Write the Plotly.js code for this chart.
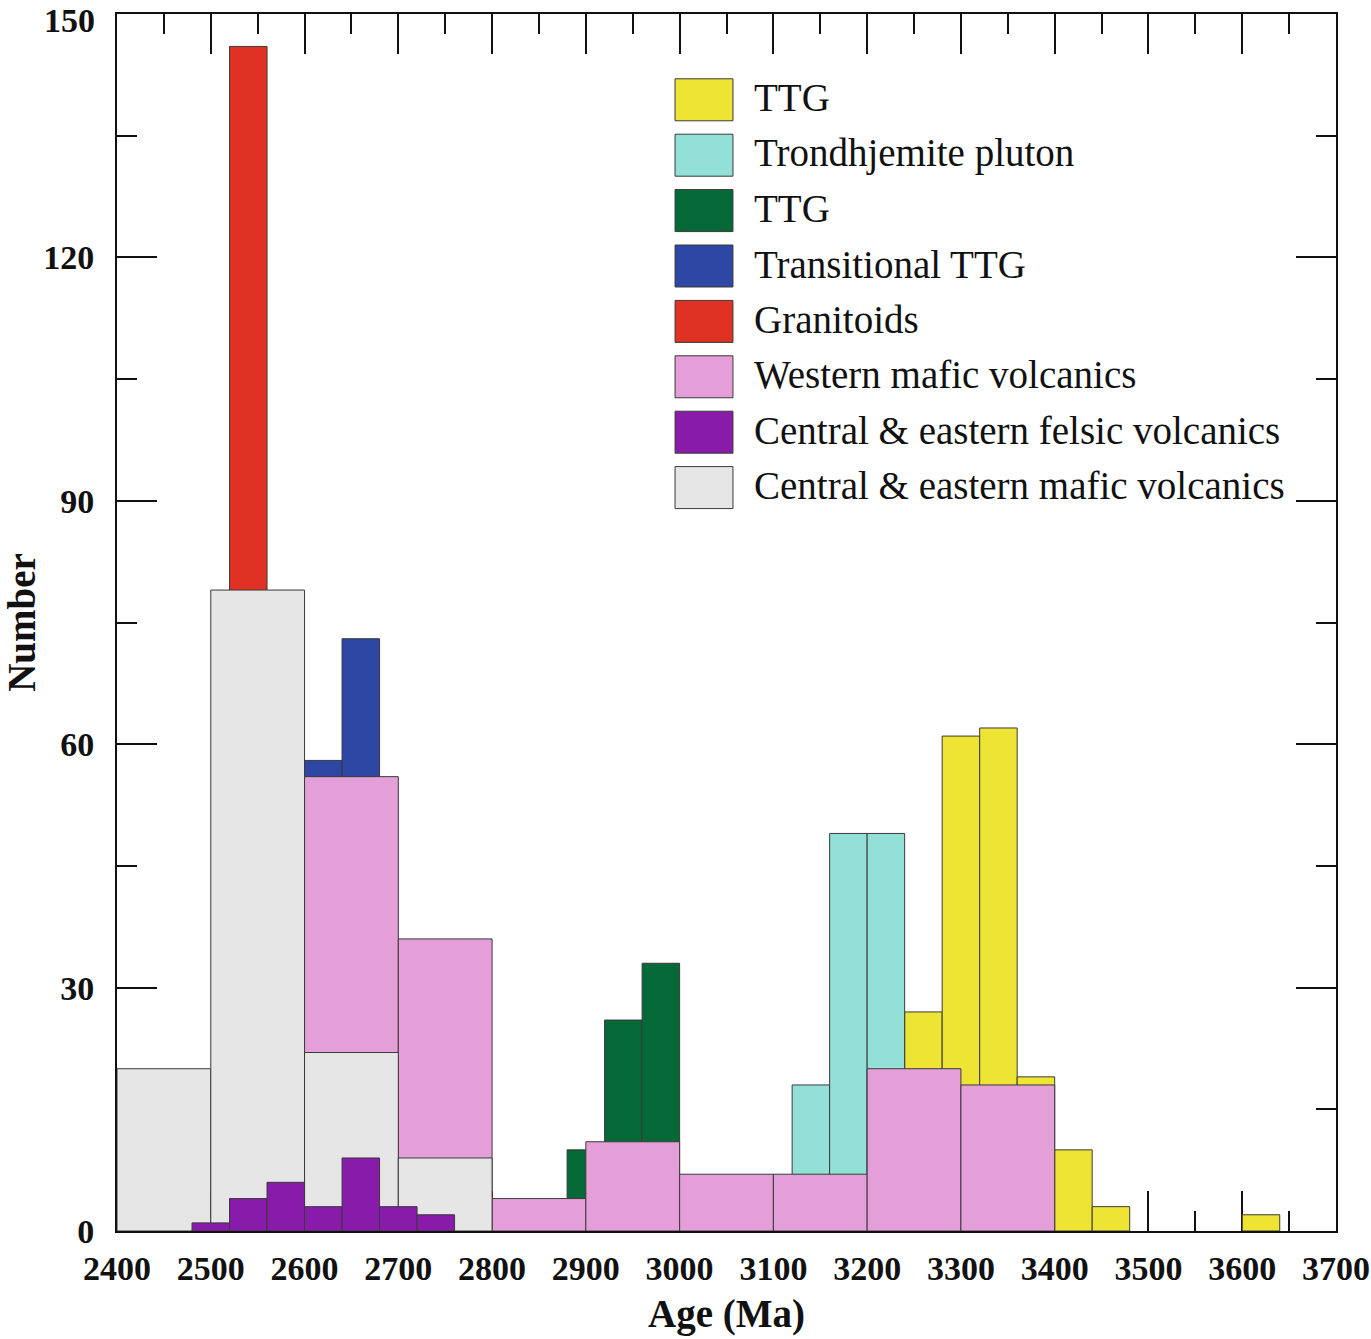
<!DOCTYPE html>
<html>
<head>
<meta charset="utf-8">
<script src="https://cdn.plot.ly/plotly-3.0.1.min.js"></script>
<style>html,body{margin:0;padding:0;background:#fff}#chart{width:1371px;height:1339px}</style>
</head>
<body>
<div id="chart"></div>
<script>
// ---- Data (bin left edges in Ma, counts) ----
var ttgYellowBins = [3240, 3280, 3320, 3360, 3400, 3440, 3600];
var ttgYellowCounts = [27, 61, 62, 19, 10, 3, 2];

var trondhjemiteBins = [3120, 3160, 3200];
var trondhjemiteCounts = [18, 49, 49];

var ttgGreenBins = [2880, 2920, 2960];
var ttgGreenCounts = [10, 26, 33];

var transitionalBins = [2600, 2640];
var transitionalCounts = [58, 73];

var granitoidBins = [2520];
var granitoidCounts = [146];

var westernMaficBins = [2600, 2700, 2800, 2900, 3000, 3100, 3200, 3300];
var westernMaficCounts = [56, 36, 4, 11, 7, 7, 20, 18];

var felsicBins = [2480, 2520, 2560, 2600, 2640, 2680, 2720];
var felsicCounts = [1, 4, 6, 3, 9, 3, 2];

var centralMaficBins = [2400, 2500, 2600, 2700];
var centralMaficCounts = [20, 79, 22, 9];

var legendNames = ["TTG", "Trondhjemite pluton", "TTG", "Transitional TTG", "Granitoids",
  "Western mafic volcanics", "Central & eastern felsic volcanics", "Central & eastern mafic volcanics"];
var legendColors = ["#ede433", "#93e0d9", "#046837", "#2e46a4", "#e03224", "#e49fd9", "#881baa", "#e6e6e6"];

var xTickVals = [2400, 2500, 2600, 2700, 2800, 2900, 3000, 3100, 3200, 3300, 3400, 3500, 3600, 3700];
var yTickVals = [0, 30, 60, 90, 120, 150];
var yTickText = ["0", "30", "60", "90", "120", "150"];

// ---- Traces (drawn in stacking order) ----
function barTrace(bins, counts, width, color, name) {
  return {
    type: 'bar', x: bins, y: counts, width: width, offset: 0, name: name,
    marker: {color: color, line: {color: '#3a3a3a', width: 1}},
    showlegend: false, hoverinfo: 'x+y+name'
  };
}
var traces = [
  barTrace(ttgYellowBins, ttgYellowCounts, 40, legendColors[0], legendNames[0]),
  barTrace(trondhjemiteBins, trondhjemiteCounts, 40, legendColors[1], legendNames[1]),
  barTrace(ttgGreenBins, ttgGreenCounts, 40, legendColors[2], legendNames[2]),
  barTrace(transitionalBins, transitionalCounts, 40, legendColors[3], legendNames[3]),
  barTrace(granitoidBins, granitoidCounts, 40, legendColors[4], legendNames[4]),
  barTrace(westernMaficBins, westernMaficCounts, 100, legendColors[5], legendNames[5]),
  barTrace(centralMaficBins, centralMaficCounts, 100, legendColors[7], legendNames[7]),
  barTrace(felsicBins, felsicCounts, 40, legendColors[6], legendNames[6])
];

var axisFont = {family: 'Liberation Serif, Times New Roman, serif', size: 34, color: '#111', weight: 'bold'};
var titleFont = {family: 'Liberation Serif, Times New Roman, serif', size: 39, color: '#111', weight: 'bold'};

// ---- Custom legend (large swatches) ----
var shapes = [], annotations = [];
var row0 = 0.9310, rowStep = 0.04552, boxH = 0.0345;
var boxX0 = 0.4578, boxX1 = 0.5053, textX = 0.521;
for (var i = 0; i < legendNames.length; i++) {
  var yc = row0 - i * rowStep;
  shapes.push({type: 'rect', xref: 'paper', yref: 'paper', x0: boxX0, x1: boxX1,
    y0: yc - boxH / 2 - 0.0015, y1: yc + boxH / 2 - 0.0015, fillcolor: legendColors[i],
    line: {color: '#3a3a3a', width: 1}, layer: 'above'});
  annotations.push({xref: 'paper', yref: 'paper', x: textX, y: yc, xanchor: 'left', yanchor: 'middle',
    text: legendNames[i].replace('&', '&amp;'), showarrow: false,
    font: {family: 'Liberation Serif, Times New Roman, serif', size: 39, color: '#111'}});
}
// top y tick label drawn as annotation so it stays inside the page
var topIdx = yTickVals.length - 1;
annotations.push({xref: 'paper', yref: 'y', x: 0, y: yTickVals[topIdx], xanchor: 'right', yanchor: 'top',
  xshift: -20, yshift: 14, text: yTickText[topIdx], showarrow: false, font: axisFont});
var yTickTextShown = yTickText.map(function (t, k) { return k === topIdx ? '' : t; });

var layout = {
  width: 1371, height: 1339,
  margin: {l: 117, r: 35, t: 14, b: 108},
  paper_bgcolor: '#fff', plot_bgcolor: '#fff',
  barmode: 'overlay',
  showlegend: false,
  xaxis: {
    range: [2400, 3700], tickvals: xTickVals, ticks: 'inside', ticklen: 40, tickwidth: 2, tickcolor: '#111',
    minor: {dtick: 50, tick0: 2400, ticks: 'inside', ticklen: 20, tickwidth: 2, tickcolor: '#111', showgrid: false},
    showline: true, linewidth: 2, linecolor: '#111', mirror: 'ticks', showgrid: false, zeroline: false,
    tickfont: axisFont, layer: 'below traces', ticklabelstandoff: 6, ticklabeloverflow: 'allow',
    title: {text: 'Age (Ma)', font: titleFont, standoff: 14}
  },
  yaxis: {
    range: [0, 150], tickvals: yTickVals, ticktext: yTickTextShown, ticks: 'inside', ticklen: 40, tickwidth: 2, tickcolor: '#111',
    minor: {dtick: 15, tick0: 0, ticks: 'inside', ticklen: 20, tickwidth: 2, tickcolor: '#111', showgrid: false},
    showline: true, linewidth: 2, linecolor: '#111', mirror: 'ticks', showgrid: false, zeroline: false,
    tickfont: axisFont, layer: 'below traces', ticklabelstandoff: 14, ticklabeloverflow: 'allow',
    title: {text: 'Number', font: titleFont, standoff: 26}
  },
  shapes: shapes,
  annotations: annotations
};

Plotly.newPlot('chart', traces, layout, {displayModeBar: false, staticPlot: true});
</script>
</body>
</html>
